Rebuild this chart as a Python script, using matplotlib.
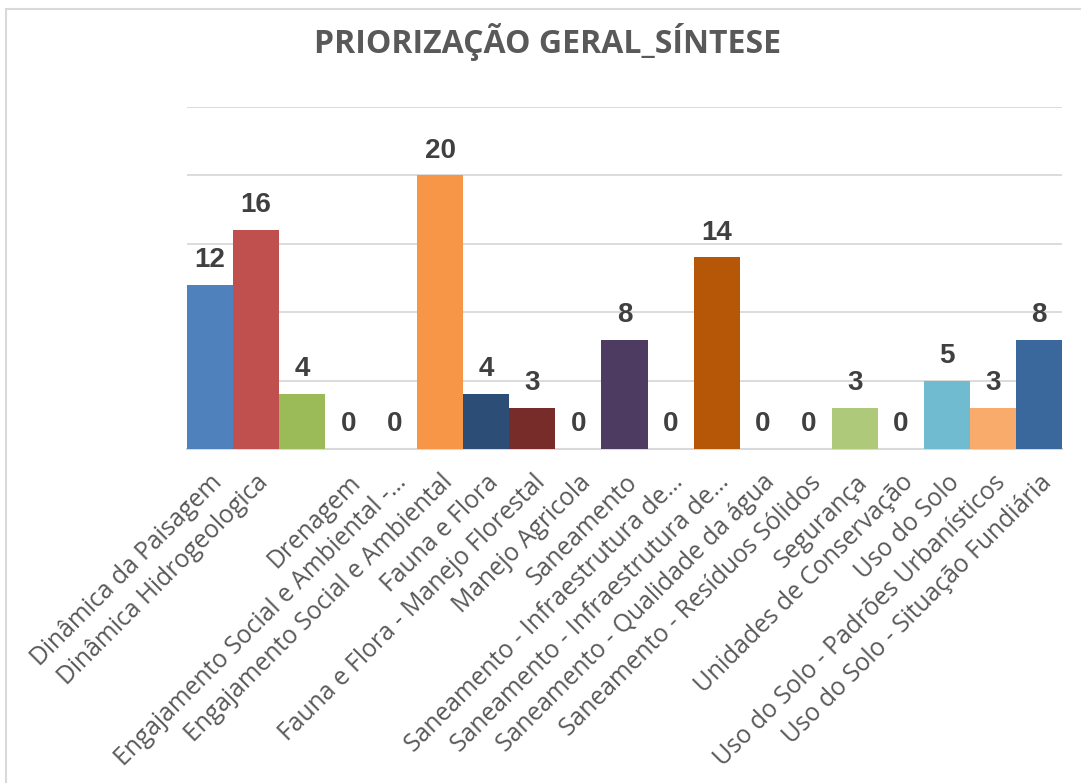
import matplotlib
matplotlib.use('Agg')
import matplotlib.pyplot as plt
from matplotlib.patches import Rectangle

# categorias e valores da síntese de priorização
categorias = [
    'Dinâmica da Paisagem',
    'Dinâmica Hidrogeologica',
    '',
    'Drenagem',
    'Engajamento Social e Ambiental -...',
    'Engajamento Social e Ambiental',
    'Fauna e Flora',
    'Fauna e Flora - Manejo Florestal',
    'Manejo Agricola',
    'Saneamento',
    'Saneamento - Infraestrutura de...',
    'Saneamento - Infraestrutura de...',
    'Saneamento - Qualidade da água',
    'Saneamento - Resíduos Sólidos',
    'Segurança',
    'Unidades de Conservação',
    'Uso do Solo',
    'Uso do Solo - Padrões Urbanísticos',
    'Uso do Solo - Situação Fundiária',
]
valores = [12, 16, 4, 0, 0, 20, 4, 3, 0, 8, 0, 14, 0, 0, 3, 0, 5, 3, 8]
cores = ['#4F81BD', '#C0504D', '#9BBB59', '#8064A2', '#4BACC6',
         '#F79646', '#2C4D75', '#772C2A', '#5F7530', '#4D3B62',
         '#276A7C', '#B65708', '#729ACA', '#CD7371', '#AFC97A',
         '#A18FB7', '#71BBD0', '#F9AB6B', '#3A679C']

fig = plt.figure(figsize=(10.81, 7.83), dpi=100)
ax = fig.add_axes([187/1081, 1-449/783, 875/1081, 342/783])

x = list(range(len(valores)))
ax.bar(x, valores, width=1.0, color=cores, zorder=3)
for xi, v in zip(x, valores):
    ax.annotate(str(v), (xi, v), xytext=(0, 8.5), textcoords='offset points',
                ha='center', va='bottom', fontsize=20, fontweight='bold',
                color='#404040', family='Liberation Sans')

ax.set_xlim(-0.5, len(valores)-0.5)
ax.set_ylim(0, 25)
ax.set_yticks([0, 5, 10, 15, 20, 25])
ax.yaxis.grid(True, color='#D9D9D9', lw=1.3, zorder=0)
ax.tick_params(axis='y', length=0, labelleft=False)
ax.tick_params(axis='x', length=0, pad=15)
ax.set_xticks(x)
ax.set_xticklabels(categorias, rotation=45, ha='right', va='top',
                   rotation_mode='anchor', fontsize=17.7, color='#595959',
                   family='Open Sans')
for s in ['top', 'right', 'left']:
    ax.spines[s].set_visible(False)
ax.spines['bottom'].set_color('#D9D9D9')
ax.spines['bottom'].set_linewidth(1.5)

fig.text(548/1081, 1-53/783, 'PRIORIZAÇÃO GERAL_SÍNTESE', ha='center', va='baseline',
         fontsize=23, fontweight='bold', color='#595959', family='Open Sans')

# moldura do gráfico
fig.patches.append(Rectangle((6/1081, -0.1), 1.2, 1-9/783+0.1, transform=fig.transFigure,
                             fill=False, edgecolor='#D9D9D9', lw=1.5))

fig.savefig('out.png', dpi=100)
